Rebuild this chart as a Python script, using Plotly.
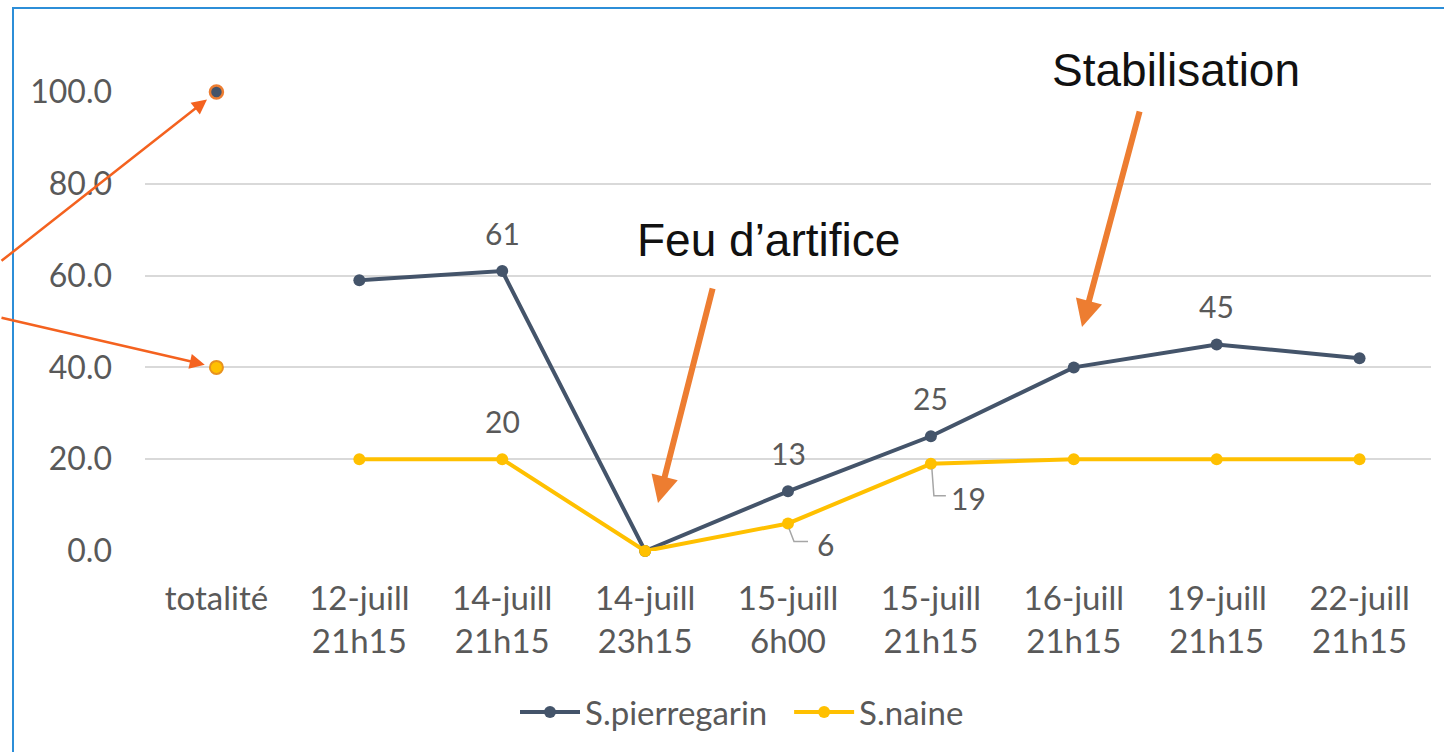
import plotly.graph_objects as go

# ---- data ----
categories = ["totalité", "12-juill<br>21h15", "14-juill<br>21h15", "14-juill<br>23h15",
              "15-juill<br>6h00", "15-juill<br>21h15", "16-juill<br>21h15",
              "19-juill<br>21h15", "22-juill<br>21h15"]
dates = categories[1:]
pierregarin = [59, 61, 0, 13, 25, 40, 45, 42]
naine = [20, 20, 0, 6, 19, 20, 20, 20]
total_pierregarin = 100
total_naine = 40
y_ticks = [0, 20, 40, 60, 80, 100]

# labels shown (index into dates)
pierre_label_idx = [1, 3, 4, 6]
naine_label_idx_above = [1]
naine_label_idx_leader = [3, 4]

W, H = 1444, 752
L, R, T, B = 145, 13, 92, 201
PW, PH = W - L - R, H - T - B

def px(xp):
    return (xp - L) / PW

def py(yp):
    return (H - B - yp) / PH

DARK = "#44546A"
YEL = "#FFC000"
ORANGE = "#ED7D31"
ORANGE2 = "#F4621F"
TXT = "#595959"
FONT = "Lato"

fig = go.Figure()
fig.add_trace(go.Scatter(x=dates, y=pierregarin, mode="lines+markers", name="S.pierregarin\u00a0\u00a0",
                         line=dict(color=DARK, width=4), marker=dict(size=12, color=DARK),
                         cliponaxis=False))
fig.add_trace(go.Scatter(x=dates, y=naine, mode="lines+markers", name="S.naine",
                         line=dict(color=YEL, width=4), marker=dict(size=12, color=YEL),
                         cliponaxis=False))
fig.add_trace(go.Scatter(x=[categories[0]], y=[total_pierregarin], mode="markers", showlegend=False,
                         marker=dict(size=13, color=DARK, line=dict(color=ORANGE, width=2.5)),
                         cliponaxis=False))
fig.add_trace(go.Scatter(x=[categories[0]], y=[total_naine], mode="markers", showlegend=False,
                         marker=dict(size=13, color=YEL, line=dict(color="#E8921E", width=2)),
                         cliponaxis=False))

ann = []
for i in pierre_label_idx:
    ann.append(dict(x=dates[i], y=pierregarin[i], text=str(pierregarin[i]), showarrow=False,
                    yshift=38, font=dict(family=FONT, size=30, color=TXT)))
for i in naine_label_idx_above:
    ann.append(dict(x=dates[i], y=naine[i], text=str(naine[i]), showarrow=False,
                    yshift=38, font=dict(family=FONT, size=30, color=TXT)))
for i in naine_label_idx_leader:
    ann.append(dict(x=dates[i], y=naine[i], text=str(naine[i]), showarrow=False,
                    xshift=37 if naine[i] < 10 else 38, yshift=-21 if naine[i] < 10 else -34,
                    font=dict(family=FONT, size=30, color=TXT)))

# arrows to totalité points
ann.append(dict(x=categories[0], y=total_pierregarin, ax=-217, ay=170, text="", showarrow=True,
                arrowhead=2, arrowsize=1.2, arrowwidth=2.5, arrowcolor=ORANGE2, standoff=12))
ann.append(dict(x=categories[0], y=total_naine, ax=-217, ay=-50, text="", showarrow=True,
                arrowhead=2, arrowsize=1.2, arrowwidth=2.5, arrowcolor=ORANGE2, standoff=12))
# thick arrows
ann.append(dict(xref="paper", yref="paper", x=px(658), y=py(503), ax=55, ay=-216, text="",
                showarrow=True, arrowhead=2, arrowsize=0.9, arrowwidth=6, arrowcolor=ORANGE))
ann.append(dict(xref="paper", yref="paper", x=px(1082), y=py(327), ax=58, ay=-217, text="",
                showarrow=True, arrowhead=2, arrowsize=0.9, arrowwidth=6, arrowcolor=ORANGE))
# titles
ann.append(dict(xref="paper", yref="paper", x=px(768), y=py(240), xanchor="center", yanchor="middle",
                text="Feu d’artifice", showarrow=False,
                font=dict(family="Liberation Sans", size=46, color="#111111")))
ann.append(dict(xref="paper", yref="paper", x=px(1176), y=py(70), xanchor="center", yanchor="middle",
                text="Stabilisation", showarrow=False,
                font=dict(family="Liberation Sans", size=46, color="#111111")))

shapes = []
# leader lines for 6 and 19
for i in naine_label_idx_leader:
    if naine[i] < 10:
        path = "M 1,-5 L 6,-18 L 20,-18"
    else:
        path = "M 1,-5 L 3,-32 L 15,-32"
    shapes.append(dict(type="path", xref="x", yref="y", xsizemode="pixel", ysizemode="pixel",
                       xanchor=dates[i], yanchor=naine[i], path=path,
                       line=dict(color="#A6A6A6", width=1.5)))
# blue frame
shapes.append(dict(type="path", xref="paper", yref="paper",
                   path=f"M {px(13)},{py(760)} L {px(13)},{py(8)} L {px(1450)},{py(8)}",
                   line=dict(color="#2C8ED8", width=2)))

fig.update_layout(
    width=W, height=H, margin=dict(l=L, r=R, t=T, b=B),
    plot_bgcolor="white", paper_bgcolor="white",
    annotations=ann, shapes=shapes,
    showlegend=True,
    legend=dict(orientation="h", x=px(742), y=py(712), xanchor="center", yanchor="middle",
                font=dict(family=FONT, size=33, color=TXT), itemwidth=60),
    xaxis=dict(type="category", categoryorder="array", categoryarray=categories,
               range=[-0.5, len(categories) - 0.5], showgrid=False, showline=False, zeroline=False,
               ticks="", tickfont=dict(family=FONT, size=33, color=TXT), ticklabelstandoff=25),
    yaxis=dict(range=[0, 100], tickvals=y_ticks, tickformat=".1f", showgrid=True,
               gridcolor="#D9D9D9", gridwidth=1.5, zeroline=False, showline=False, ticks="",
               tickfont=dict(family=FONT, size=32, color=TXT), ticklabelstandoff=32),
)

fig.write_html("out.html", config={"displayModeBar": False},
               post_script="document.body.style.margin='0';")
